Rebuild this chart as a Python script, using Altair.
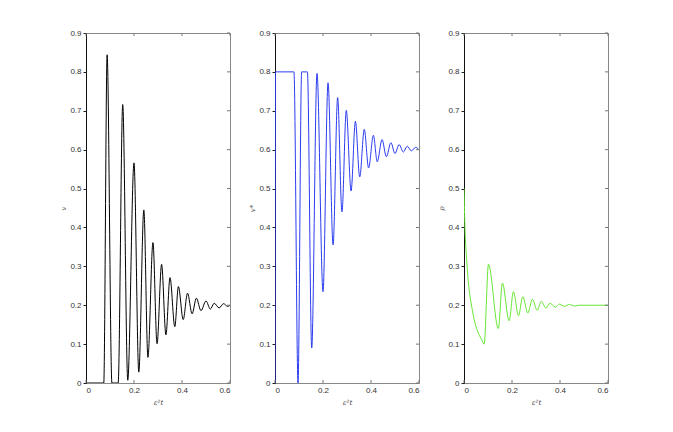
import altair as alt
import pandas as pd

# v (black) curve: extrema
v_t = [0, 0.074, 0.088, 0.108, 0.134, 0.153, 0.174, 0.2, 0.22, 0.241, 0.258, 0.279,
       0.296, 0.315, 0.333, 0.35, 0.37, 0.385, 0.405, 0.423, 0.442, 0.46, 0.479, 0.5,
       0.518, 0.534, 0.555, 0.573, 0.59, 0.6]
v_val = [0, 0, 0.844, 0, 0, 0.716, 0.007, 0.566, 0.028, 0.445, 0.066, 0.361,
         0.101, 0.305, 0.124, 0.271, 0.145, 0.248, 0.163, 0.231, 0.178, 0.218, 0.186, 0.211,
         0.19, 0.205, 0.193, 0.204, 0.197, 0.2]

# v* (blue) curve
vs_t = [0, 0.002, 0.079, 0.096, 0.111, 0.135, 0.153, 0.175, 0.2, 0.221, 0.242, 0.261,
        0.279, 0.297, 0.317, 0.335, 0.353, 0.372, 0.39, 0.41, 0.426, 0.446, 0.464, 0.483,
        0.5, 0.517, 0.535, 0.551, 0.568, 0.586, 0.6]
vs_val = [0, 0.8, 0.8, 0.0, 0.8, 0.8, 0.09, 0.796, 0.235, 0.772, 0.355, 0.734,
          0.44, 0.701, 0.494, 0.673, 0.53, 0.652, 0.553, 0.637, 0.569, 0.626, 0.582, 0.618,
          0.59, 0.613, 0.594, 0.609, 0.597, 0.606, 0.6]

# rho (green) curve
rho_t = [0, 0.004, 0.011, 0.018, 0.032, 0.046, 0.06, 0.074, 0.084, 0.102, 0.143, 0.16,
         0.188, 0.206, 0.227, 0.245, 0.266, 0.285, 0.305, 0.322, 0.341, 0.359, 0.38, 0.398,
         0.419, 0.439, 0.461, 0.48, 0.5, 0.6]
rho_val = [0.5, 0.40, 0.32, 0.26, 0.197, 0.154, 0.128, 0.111, 0.1, 0.305, 0.14, 0.257,
           0.16, 0.235, 0.173, 0.222, 0.18, 0.215, 0.187, 0.21, 0.193, 0.205, 0.195, 0.203,
           0.197, 0.202, 0.198, 0.2, 0.2, 0.2]

x_ticks = [0, 0.2, 0.4, 0.6]
y_ticks = [0, 0.1, 0.2, 0.3, 0.4, 0.5, 0.6, 0.7, 0.8, 0.9]

W, H = 144, 350
FONT = "Liberation Sans"


def panel(ts, vals, color, ytitle):
    df = pd.DataFrame({"t": ts, "val": vals})
    xsc = alt.Scale(domain=[0, 0.6], nice=False, zero=False)
    ysc = alt.Scale(domain=[0, 0.9], nice=False, zero=False)
    xax = alt.Axis(
        values=x_ticks, format="~g", title="ε²t", ticks=False,
        domainColor="#888", labelPadding=3, titlePadding=4,
        titleFontStyle="italic", titleFontWeight="normal", titleFontSize=7,
        titleFont="DejaVu Serif")
    yax = alt.Axis(
        values=y_ticks, format="~g", title=ytitle, tickSize=3, tickColor="#222",
        domainColor="#111", labelPadding=2, titleX=-20, titleY=H / 2,
        titleFontStyle="italic", titleFontWeight="normal", titleFontSize=7,
        titleFont="DejaVu Serif", titleAngle=-90, titleColor="#555")
    line = alt.Chart(df).mark_line(
        color=color, strokeWidth=1, interpolate="monotone", clip=True
    ).encode(
        x=alt.X("t:Q", scale=xsc, axis=xax),
        y=alt.Y("val:Q", scale=ysc, axis=yax),
    )
    xt = pd.DataFrame({"t": x_ticks})
    yt = pd.DataFrame({"val": y_ticks})
    bot = alt.Chart(xt).mark_rule(color="#777", strokeWidth=1).encode(
        x=alt.X("t:Q", scale=xsc, axis=xax), y=alt.value(H - 3), y2=alt.value(H))
    top = alt.Chart(xt).mark_rule(color="#777", strokeWidth=1).encode(
        x=alt.X("t:Q", scale=xsc, axis=xax), y=alt.value(0), y2=alt.value(3))
    right = alt.Chart(yt).mark_rule(color="#777", strokeWidth=1).encode(
        y=alt.Y("val:Q", scale=ysc, axis=yax), x=alt.value(W - 3), x2=alt.value(W))
    return alt.layer(line, bot, top, right).properties(width=W, height=H)


chart = alt.hconcat(
    panel(v_t, v_val, "#000000", "v"),
    panel(vs_t, vs_val, "#2b3cf0", "v*"),
    panel(rho_t, rho_val, "#66e633", "ρ"),
    spacing=45,
    bounds="flush",
).properties(
    padding={"left": 50, "top": 20, "right": 5, "bottom": 5}
).configure_view(
    stroke="#888", strokeWidth=1
).configure_axis(
    grid=False, labelFont=FONT, labelFontSize=8, labelColor="#333",
    titleColor="#444"
)

chart.save("out.html", embed_options={"renderer": "svg", "actions": False})
